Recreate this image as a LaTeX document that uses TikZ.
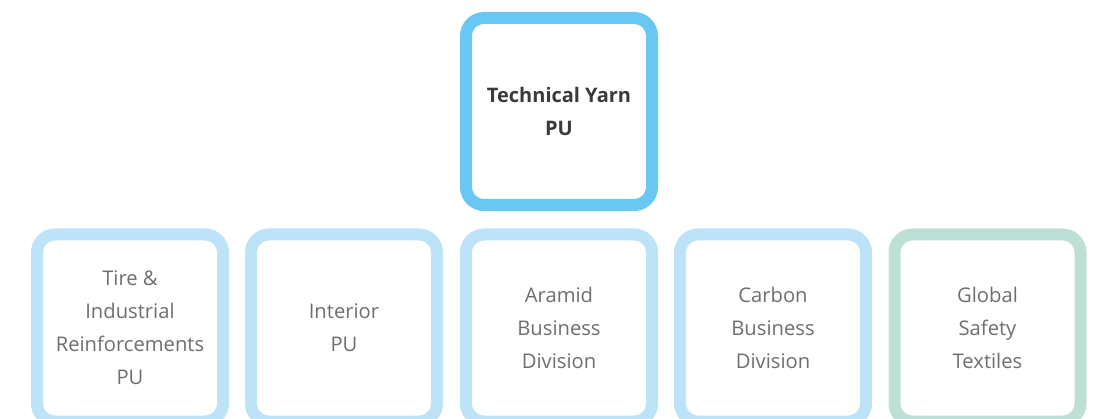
\documentclass[tikz,border=0pt]{standalone}
\usepackage{fontspec}
\setmainfont{Open Sans}
\definecolor{topblue}{HTML}{68C8F3}
\definecolor{paleblue}{HTML}{BDE3F8}
\definecolor{palegreen}{HTML}{BCE0D6}
\definecolor{toptext}{HTML}{3A3A3A}
\definecolor{unittext}{HTML}{6E6E6E}
\tikzset{
	unitbox/.style={draw=paleblue, line width=12pt, rounded corners=18pt, minimum width=186pt, minimum height=187pt, align=center, text=unittext, font=\fontsize{20.2}{33}\selectfont},
	headbox/.style={unitbox, draw=topblue, text=toptext, font=\bfseries\fontsize{20}{33}\selectfont}
}
\begin{document}
\begin{tikzpicture}[x=1pt,y=-1pt]
		\useasboundingbox (0,0) rectangle (1097,419);
		\node[headbox] (yarn) at (559,111.5) {Technical Yarn\\PU};
		\node[unitbox] (tire) at (130,328) {Tire \&\\Industrial\\Reinforcements\\PU};
		\node[unitbox] (interior) at (344,328) {Interior\\PU};
		\node[unitbox] (aramid) at (559,328) {Aramid\\Business\\Division};
		\node[unitbox] (carbon) at (773,328) {Carbon\\Business\\Division};
		\node[unitbox, draw=palegreen] (safety) at (987.5,328) {Global\\Safety\\Textiles};
	\end{tikzpicture}
\end{document}
